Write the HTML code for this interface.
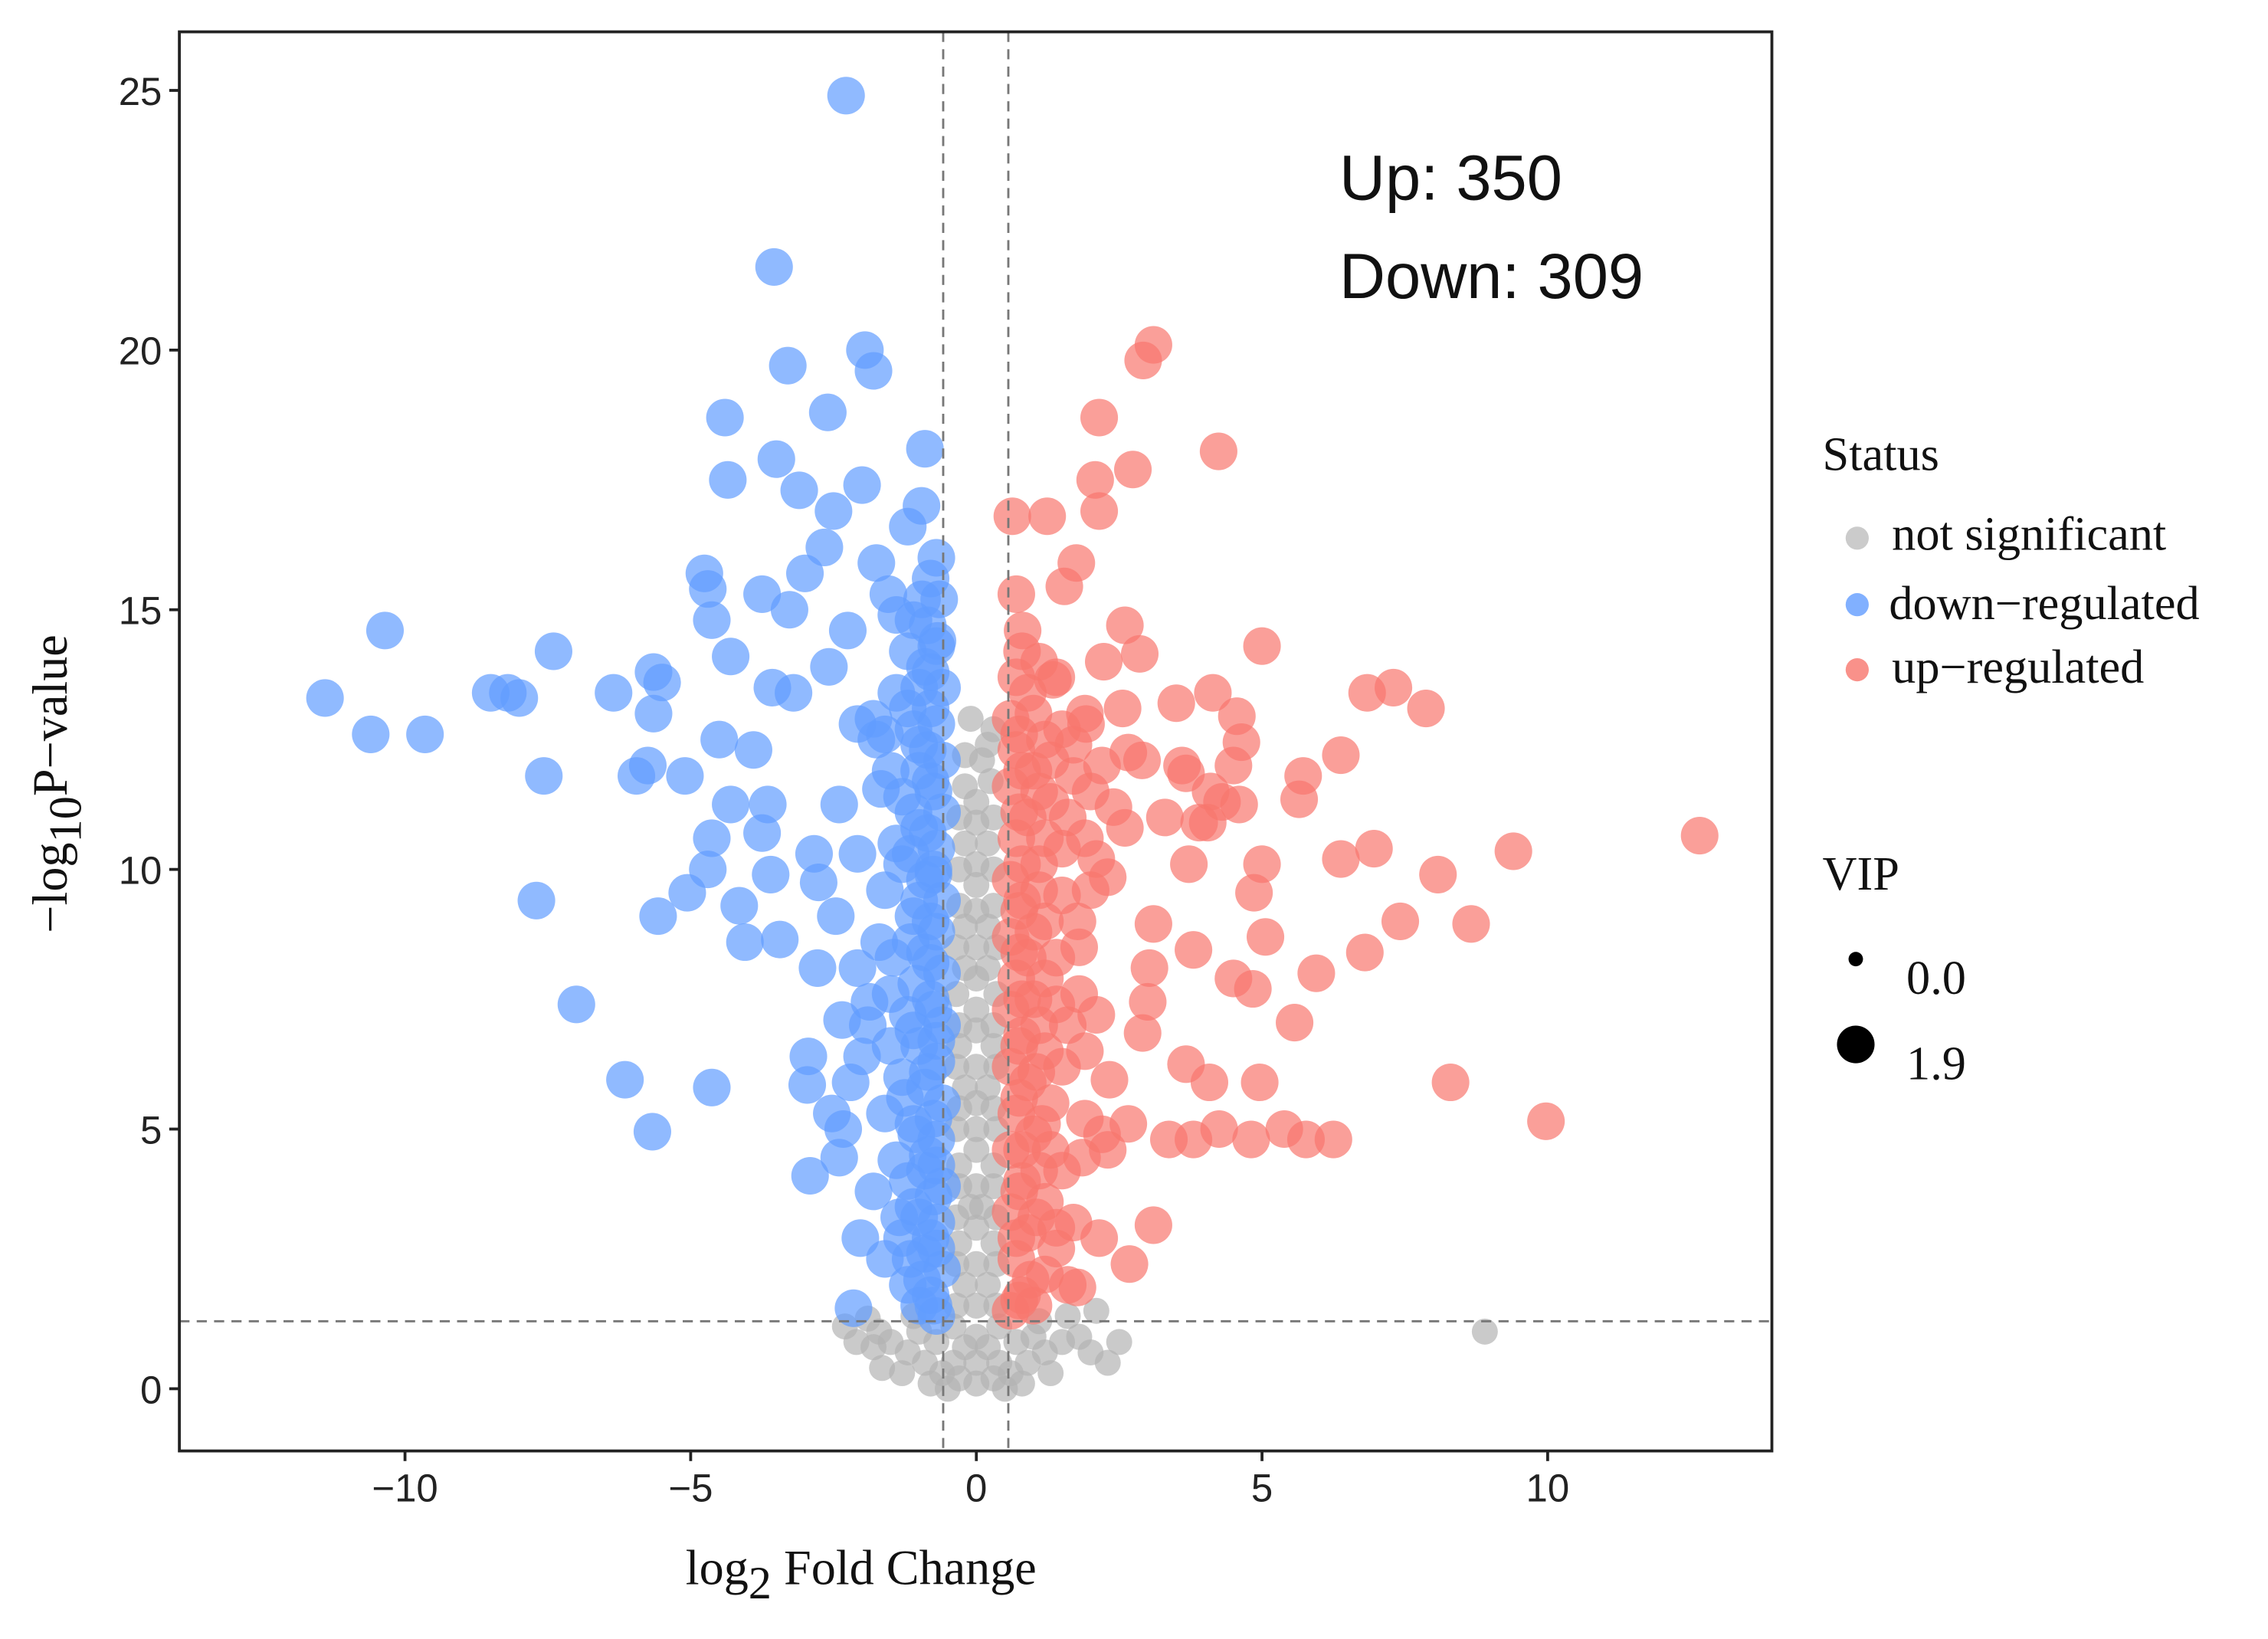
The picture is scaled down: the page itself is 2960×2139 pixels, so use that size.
<!DOCTYPE html>
<html><head><meta charset="utf-8"><style>
html,body{margin:0;padding:0;background:#fff;}
svg{display:block;}
.tk{font-family:"Liberation Sans",sans-serif;font-size:27px;fill:#222;}
.sr{font-family:"Liberation Serif",serif;fill:#111;}
</style></head><body>
<svg id="chart" width="2960" height="2139" viewBox="0 0 1568 1133" preserveAspectRatio="none" xmlns="http://www.w3.org/2000/svg">
<rect width="1568" height="1133" fill="#fff"/>
<g id="grayG"></g>
<g id="blueG"></g>
<g id="redG"></g>
<g id="refs"></g>
<rect x="124" y="22" width="1101" height="981" fill="none" stroke="#222" stroke-width="2"/>
<g id="axes"></g>
<text x="926" y="138" font-family="Liberation Sans, sans-serif" font-size="44" fill="#111">Up: 350</text>
<text x="926" y="206" font-family="Liberation Sans, sans-serif" font-size="44" fill="#111">Down: 309</text>
<text class="sr" x="474" y="1095" font-size="34">log<tspan font-size="32" dy="10">2</tspan><tspan dy="-10"> Fold Change</tspan></text>
<text class="sr" font-size="34" transform="translate(46,645) rotate(-90)">−log<tspan font-size="32" dy="10">10</tspan><tspan dy="-10">P−value</tspan></text>
<g>
<text class="sr" x="1260" y="325" font-size="33">Status</text>
<circle cx="1284" cy="372" r="8" fill="#bebebe" fill-opacity="0.8"/>
<text class="sr" x="1308" y="380" font-size="33">not significant</text>
<circle cx="1284" cy="418" r="8" fill="#619cff" fill-opacity="0.8"/>
<text class="sr" x="1306" y="428" font-size="33">down−regulated</text>
<circle cx="1284" cy="463" r="8" fill="#f8766d" fill-opacity="0.8"/>
<text class="sr" x="1308" y="472" font-size="33">up−regulated</text>
</g>
<g>
<text class="sr" x="1260" y="615" font-size="33">VIP</text>
<circle cx="1283" cy="663" r="5" fill="#000"/>
<text class="sr" x="1318" y="687" font-size="33">0.0</text>
<circle cx="1283" cy="722" r="13" fill="#000"/>
<text class="sr" x="1318" y="746" font-size="33">1.9</text>
</g>
</svg>
<script>
const xTicks=[-10,-5,0,5,10];
const yTicks=[0,5,10,15,20,25];
const vLines=[-0.58,0.56];
const hLines=[1.3];
const bluePts=[[-2.28,24.9],[-3.54,21.6],[-1.95,20.0],[-1.8,19.6],[-3.3,19.7],[-2.6,18.8],[-4.4,18.7],[-3.5,17.9],[-4.35,17.5],[-0.9,18.1],[-2.0,17.4],[-3.1,17.3],[-2.5,16.9],[-0.96,17.0],[-1.2,16.6],[-2.66,16.2],[-1.75,15.9],[-3.0,15.7],[-4.76,15.7],[-4.7,15.4],[-3.75,15.3],[-1.54,15.3],[-10.35,14.6],[-7.4,14.2],[-4.63,14.8],[-3.27,15.0],[-2.25,14.6],[-0.68,14.4],[-11.4,13.3],[-8.2,13.4],[-8.5,13.4],[-8.0,13.3],[-6.35,13.4],[-5.65,13.8],[-5.5,13.6],[-5.65,13.0],[-4.3,14.1],[-3.57,13.5],[-2.58,13.9],[-10.6,12.6],[-9.65,12.6],[-7.57,11.8],[-5.95,11.8],[-5.75,12.0],[-5.1,11.8],[-4.5,12.5],[-3.9,12.3],[-3.2,13.4],[-2.08,12.8],[-1.75,12.5],[-2.4,11.25],[-4.3,11.25],[-3.65,11.25],[-1.67,11.55],[-4.63,10.6],[-3.75,10.7],[-2.84,10.3],[-2.08,10.3],[-4.7,10.0],[-7.7,9.4],[-5.57,9.1],[-5.06,9.55],[-4.15,9.3],[-3.6,9.9],[-2.76,9.75],[-2.46,9.1],[-4.05,8.6],[-3.44,8.65],[-2.78,8.1],[-2.08,8.1],[-7.0,7.4],[-1.87,7.45],[-2.35,7.1],[-2.94,6.4],[-6.15,5.95],[-4.63,5.8],[-2.96,5.85],[-2.2,5.9],[-2.53,5.3],[-5.67,4.95],[-2.33,5.0],[-2.91,4.1],[-2.4,4.45],[-2.03,2.9],[-2.15,1.55],
[-0.7,1.4],[-0.8,1.8],[-1.0,1.6],[-1.2,2.0],[-0.6,2.3],[-0.9,2.6],[-1.3,2.9],[-0.7,3.2],[-1.1,3.5],[-0.6,3.9],[-0.9,4.2],[-1.4,4.4],[-0.7,4.8],[-1.1,5.1],[-0.6,5.5],[-0.9,5.8],[-1.3,6.0],[-0.7,6.3],[-1.0,6.6],[-0.6,7.0],[-1.2,7.2],[-0.8,7.5],[-1.5,7.6],[-0.6,8.0],[-0.9,8.4],[-0.7,8.8],[-1.1,9.1],[-0.6,9.4],[-0.9,9.8],[-1.3,10.1],[-0.7,10.4],[-1.0,10.8],[-0.6,11.1],[-1.3,11.4],[-0.8,11.7],[-0.6,12.1],[-1.0,12.4],[-0.7,12.8],[-1.2,13.1],[-0.6,13.5],[-0.9,13.9],[-0.7,14.3],[-1.1,14.8],[-0.8,15.6],[-0.7,16.0],[-1.6,9.6],[-1.6,5.3],[-1.8,3.8],[-1.5,11.9],[-1.4,13.4],[-2.0,6.4],[-1.9,7.0],[-1.6,2.5],
[-0.75,1.6],[-0.95,2.1],[-1.15,2.5],[-0.8,2.9],[-1.0,3.3],[-0.75,3.7],[-1.2,4.0],[-0.85,4.5],[-1.05,4.9],[-0.75,5.2],[-1.25,5.6],[-0.85,6.1],[-1.1,6.9],[-0.75,7.3],[-1.05,7.8],[-0.8,8.2],[-1.15,8.6],[-0.8,9.0],[-1.0,9.4],[-0.75,9.9],[-1.15,10.3],[-0.85,10.7],[-1.1,11.1],[-0.75,11.5],[-1.0,11.9],[-0.85,12.3],[-1.1,12.7],[-0.8,13.1],[-1.0,13.5],[-0.8,13.8],[-1.2,14.2],[-0.85,14.7],[-0.65,15.2],[-0.95,15.2],[-0.75,10.0],[-0.7,6.7],[-0.7,4.3],[-0.7,2.7],[-1.35,3.3],[-1.45,8.3],[-1.5,6.6],[-1.4,10.5],[-1.7,8.6],[-1.6,12.6],[-1.8,12.9],[-1.4,14.9]];
const redPts=[[3.10,20.1],[2.92,19.8],[2.15,18.7],[4.24,18.05],[2.08,17.5],[2.74,17.7],[2.15,16.9],[0.63,16.8],[1.24,16.8],[1.75,15.9],[1.54,15.45],[0.7,15.3],[2.6,14.7],[2.86,14.15],[5.0,14.3],[2.23,14.0],[0.81,14.6],[1.34,13.65],[4.14,13.4],[3.5,13.2],[6.84,13.4],[7.3,13.5],[7.87,13.1],[4.56,12.95],[2.56,13.1],[1.92,12.8],[6.38,12.2],[5.72,11.8],[4.64,12.45],[3.67,11.85],[2.66,12.25],[5.65,11.35],[4.6,11.25],[4.05,10.9],[12.66,10.65],[6.96,10.4],[6.38,10.2],[9.4,10.35],[8.08,9.9],[5.0,10.1],[4.86,9.55],[3.72,10.1],[2.3,9.85],[8.66,8.95],[7.42,9.0],[5.06,8.7],[3.1,8.95],[1.77,9.0],[3.8,8.45],[6.8,8.4],[5.95,8.0],[4.5,7.9],[4.84,7.7],[3.03,8.1],[3.0,7.45],[5.57,7.05],[2.91,6.85],[3.67,6.25],[4.08,5.9],[4.96,5.9],[2.33,5.95],[8.3,5.9],[9.97,5.15],[3.37,4.8],[3.8,4.8],[4.25,5.0],[4.81,4.8],[5.39,5.0],[5.77,4.8],[6.25,4.8],[2.66,5.1],[2.2,4.9],[1.85,4.45],[2.15,2.9],[3.1,3.15],[2.68,2.4],[1.77,1.95],
[0.6,1.5],[0.8,1.8],[1.0,1.6],[1.2,2.2],[0.7,2.5],[1.4,2.7],[0.9,3.0],[0.6,3.4],[1.2,3.6],[0.8,4.0],[1.5,4.2],[0.6,4.6],[1.0,4.9],[0.7,5.3],[1.3,5.5],[0.9,5.9],[0.6,6.2],[1.2,6.5],[0.8,6.8],[1.6,7.0],[0.6,7.3],[1.0,7.5],[1.4,7.4],[0.7,7.9],[0.9,8.3],[0.6,8.7],[1.2,9.0],[0.8,9.4],[0.6,9.8],[1.1,10.1],[1.5,10.4],[0.7,10.6],[0.9,11.0],[1.3,11.3],[0.6,11.6],[1.0,11.9],[1.7,11.8],[0.7,12.3],[1.2,12.5],[0.6,12.9],[0.9,13.4],[1.4,13.7],[0.8,14.2],[1.1,14.0],[2.0,11.5],[2.2,12.0],[1.9,10.6],[2.4,11.2],[1.8,8.5],[2.1,7.2],[1.9,6.5],[2.3,4.6],[1.9,5.2],[1.7,3.2],[1.6,2.0],[2.0,9.6],[2.6,10.8],[2.9,12.1],[3.3,11.0],[3.6,12.0],[4.1,11.5],[4.5,12.0],[3.9,10.9],[4.3,11.3],
[0.75,1.7],[0.95,2.1],[0.7,2.9],[1.05,3.3],[0.75,3.8],[1.1,4.2],[0.8,4.6],[1.15,5.1],[0.75,5.6],[1.05,6.1],[0.75,6.6],[1.1,7.0],[0.8,7.5],[1.2,7.9],[0.75,8.4],[1.0,8.8],[0.75,9.2],[1.1,9.6],[0.8,10.1],[1.2,10.6],[0.75,11.1],[1.1,11.5],[0.8,11.9],[1.3,12.1],[0.75,12.6],[1.0,13.0],[0.7,13.7],[1.5,12.7],[1.6,11.0],[1.5,9.5],[1.4,8.3],[1.5,6.2],[1.3,4.6],[1.4,3.1],[1.8,7.6],[1.7,12.4],[1.9,13.0],[2.1,10.2]];
const grayPts=[[0,0.1],[-0.3,0.2],[0.3,0.2],[-0.6,0.3],[0.6,0.3],[-0.9,0.5],[0.9,0.5],[-1.2,0.7],[1.2,0.7],[-1.5,0.9],[1.5,0.9],[-0.2,0.8],[0.2,0.8],[-0.4,1.2],[0.4,1.2],[-0.2,2.0],[0.2,2.0],[-0.3,2.8],[0.3,2.8],[-0.1,3.5],[0.1,3.5],[-0.3,4.3],[0.3,4.3],[0,5.0],[-0.2,5.8],[0.2,5.8],[-0.3,6.6],[0.3,6.6],[0,7.3],[-0.2,8.1],[0.2,8.1],[-0.2,8.9],[0.2,8.9],[0,9.7],[-0.2,10.5],[0.2,10.5],[0,11.3],[0.1,12.1],[0.3,12.7],[-0.1,12.9],[8.9,1.1],[2.3,0.5],[-1.65,0.4],[2.1,1.5],[-1.9,1.35],[-2.3,1.2],[1.8,1.0],[-1.1,1.4],[1.1,1.3],[-0.5,0.0],[0.5,0.0],[-1.8,0.8],[2.5,0.9],
[-0.4,0.5],[0.4,0.5],[-0.7,0.9],[0.7,0.9],[-1.0,1.1],[1.0,1.0],[0,0.5],[0,1.0],[-0.35,1.6],[0.35,1.6],[0,1.6],[0,2.4],[-0.35,2.4],[0.35,2.4],[0,3.1],[-0.35,3.3],[0.35,3.3],[0,3.9],[-0.3,3.9],[0.3,3.9],[0,4.6],[-0.35,5.0],[0.35,5.0],[0,5.5],[-0.3,5.4],[0.3,5.4],[0,6.2],[-0.35,6.2],[0.35,6.2],[0,6.9],[-0.3,7.0],[0.3,7.0],[-0.35,7.6],[0.35,7.6],[0,7.9],[0,8.5],[-0.35,8.5],[0.35,8.5],[0,9.2],[-0.3,9.3],[0.3,9.3],[-0.3,10.0],[0.3,10.0],[0,10.1],[0,10.9],[-0.3,11.0],[0.3,11.0],[-0.2,11.6],[0.25,11.7],[0.2,12.4],[-0.2,12.2],[-1.3,0.3],[1.3,0.3],[-0.8,0.1],[0.8,0.1],[-1.7,1.1],[1.6,1.4],[-2.1,0.9],[2.0,0.7]];

const NS="http://www.w3.org/2000/svg";
function sx(v){return 675+v*39.5;}
function sy(v){return 960-v*35.9;}
function mk(tag,attrs,parent){const e=document.createElementNS(NS,tag);for(const k in attrs)e.setAttribute(k,attrs[k]);parent.appendChild(e);return e;}
function drawPts(pts,gid,color,r,name){
  const g=document.getElementById(gid);
  pts.forEach(p=>{
    const c=mk('circle',{cx:sx(p[0]),cy:sy(p[1]),r:r,fill:color,'fill-opacity':0.7},g);
    
    
  });
}
drawPts(grayPts,'grayG','#b4b4b4',9,'gray-point');
drawPts(bluePts,'blueG','#619cff',13,'blue-point');
drawPts(redPts,'redG','#f8766d',13,'red-point');
const refs=document.getElementById('refs');
vLines.forEach(v=>{
  const l=mk('line',{x1:sx(v),x2:sx(v),y1:22,y2:1003,stroke:'#777','stroke-width':1.5,'stroke-dasharray':'7,5'},refs);
  
  
});
hLines.forEach(v=>{
  const l=mk('line',{x1:124,x2:1225,y1:sy(v),y2:sy(v),stroke:'#777','stroke-width':1.5,'stroke-dasharray':'7,5'},refs);
  
  
});
const ax=document.getElementById('axes');
xTicks.forEach(v=>{
  const t=mk('line',{x1:sx(v),x2:sx(v),y1:1003,y2:1010,stroke:'#222','stroke-width':2},ax);
  
  
  const tx=mk('text',{x:sx(v),y:1038,'text-anchor':'middle',class:'tk'},ax);
  tx.textContent=(v<0?'−'+Math.abs(v):String(v));
  
  
});
yTicks.forEach(v=>{
  const t=mk('line',{x1:117,x2:124,y1:sy(v),y2:sy(v),stroke:'#222','stroke-width':2},ax);
  
  
  const tx=mk('text',{x:112,y:sy(v)+10,'text-anchor':'end',class:'tk'},ax);
  tx.textContent=String(v);
  
  
});
</script>
</body></html>
